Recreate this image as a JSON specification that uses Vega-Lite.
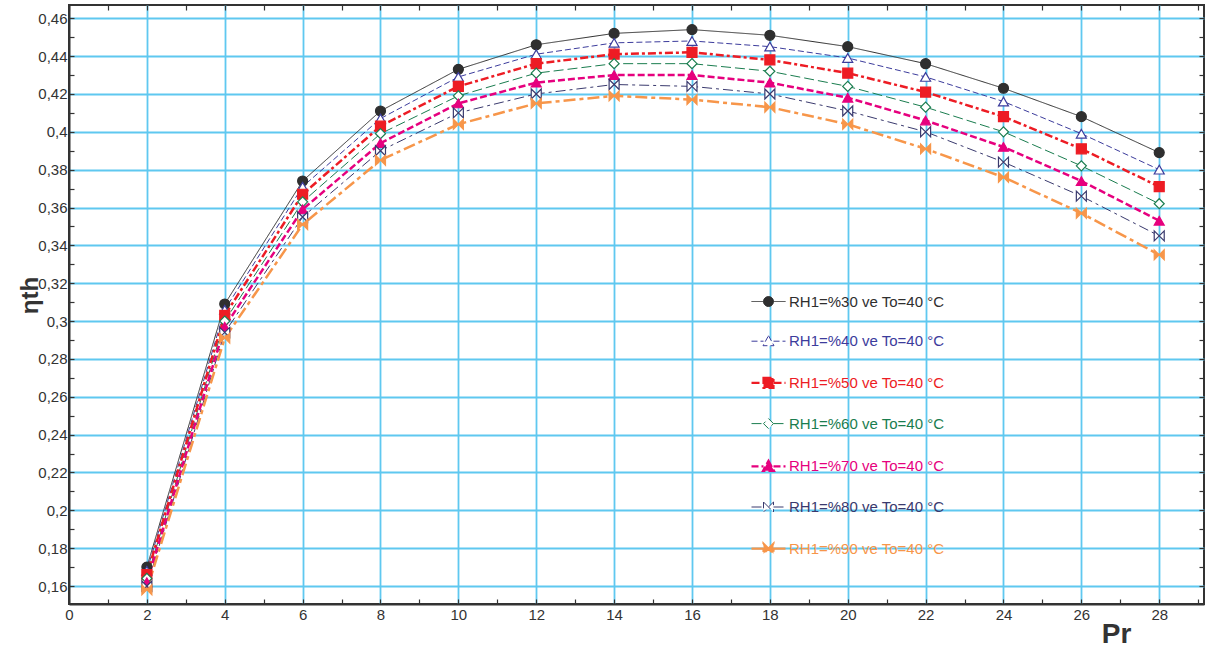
{
  "$schema": "https://vega.github.io/schema/vega-lite/v6.json",
  "width": 1135,
  "height": 599,
  "autosize": {"type": "none"},
  "padding": {"left": 69, "top": 5, "right": 11, "bottom": 44},
  "background": "white",
  "config": {"view": {"stroke": "#333333", "strokeWidth": 2}, "font": "Liberation Sans"},
  "data": {"values": [
    {"Pr": 2, "RH": "30", "eta": 0.170}, {"Pr": 4, "RH": "30", "eta": 0.309}, {"Pr": 6, "RH": "30", "eta": 0.374}, {"Pr": 8, "RH": "30", "eta": 0.411}, {"Pr": 10, "RH": "30", "eta": 0.433}, {"Pr": 12, "RH": "30", "eta": 0.446}, {"Pr": 14, "RH": "30", "eta": 0.452}, {"Pr": 16, "RH": "30", "eta": 0.454}, {"Pr": 18, "RH": "30", "eta": 0.451}, {"Pr": 20, "RH": "30", "eta": 0.445}, {"Pr": 22, "RH": "30", "eta": 0.436}, {"Pr": 24, "RH": "30", "eta": 0.423}, {"Pr": 26, "RH": "30", "eta": 0.408}, {"Pr": 28, "RH": "30", "eta": 0.389},
    {"Pr": 2, "RH": "40", "eta": 0.168}, {"Pr": 4, "RH": "40", "eta": 0.306}, {"Pr": 6, "RH": "40", "eta": 0.371}, {"Pr": 8, "RH": "40", "eta": 0.407}, {"Pr": 10, "RH": "40", "eta": 0.429}, {"Pr": 12, "RH": "40", "eta": 0.441}, {"Pr": 14, "RH": "40", "eta": 0.447}, {"Pr": 16, "RH": "40", "eta": 0.448}, {"Pr": 18, "RH": "40", "eta": 0.445}, {"Pr": 20, "RH": "40", "eta": 0.439}, {"Pr": 22, "RH": "40", "eta": 0.429}, {"Pr": 24, "RH": "40", "eta": 0.416}, {"Pr": 26, "RH": "40", "eta": 0.399}, {"Pr": 28, "RH": "40", "eta": 0.380},
    {"Pr": 2, "RH": "50", "eta": 0.166}, {"Pr": 4, "RH": "50", "eta": 0.303}, {"Pr": 6, "RH": "50", "eta": 0.367}, {"Pr": 8, "RH": "50", "eta": 0.403}, {"Pr": 10, "RH": "50", "eta": 0.424}, {"Pr": 12, "RH": "50", "eta": 0.436}, {"Pr": 14, "RH": "50", "eta": 0.441}, {"Pr": 16, "RH": "50", "eta": 0.442}, {"Pr": 18, "RH": "50", "eta": 0.438}, {"Pr": 20, "RH": "50", "eta": 0.431}, {"Pr": 22, "RH": "50", "eta": 0.421}, {"Pr": 24, "RH": "50", "eta": 0.408}, {"Pr": 26, "RH": "50", "eta": 0.391}, {"Pr": 28, "RH": "50", "eta": 0.371},
    {"Pr": 2, "RH": "60", "eta": 0.164}, {"Pr": 4, "RH": "60", "eta": 0.300}, {"Pr": 6, "RH": "60", "eta": 0.363}, {"Pr": 8, "RH": "60", "eta": 0.399}, {"Pr": 10, "RH": "60", "eta": 0.419}, {"Pr": 12, "RH": "60", "eta": 0.431}, {"Pr": 14, "RH": "60", "eta": 0.436}, {"Pr": 16, "RH": "60", "eta": 0.436}, {"Pr": 18, "RH": "60", "eta": 0.432}, {"Pr": 20, "RH": "60", "eta": 0.424}, {"Pr": 22, "RH": "60", "eta": 0.413}, {"Pr": 24, "RH": "60", "eta": 0.400}, {"Pr": 26, "RH": "60", "eta": 0.382}, {"Pr": 28, "RH": "60", "eta": 0.362},
    {"Pr": 2, "RH": "70", "eta": 0.162}, {"Pr": 4, "RH": "70", "eta": 0.297}, {"Pr": 6, "RH": "70", "eta": 0.359}, {"Pr": 8, "RH": "70", "eta": 0.394}, {"Pr": 10, "RH": "70", "eta": 0.415}, {"Pr": 12, "RH": "70", "eta": 0.426}, {"Pr": 14, "RH": "70", "eta": 0.430}, {"Pr": 16, "RH": "70", "eta": 0.430}, {"Pr": 18, "RH": "70", "eta": 0.426}, {"Pr": 20, "RH": "70", "eta": 0.418}, {"Pr": 22, "RH": "70", "eta": 0.406}, {"Pr": 24, "RH": "70", "eta": 0.392}, {"Pr": 26, "RH": "70", "eta": 0.374}, {"Pr": 28, "RH": "70", "eta": 0.353},
    {"Pr": 2, "RH": "80", "eta": 0.160}, {"Pr": 4, "RH": "80", "eta": 0.294}, {"Pr": 6, "RH": "80", "eta": 0.355}, {"Pr": 8, "RH": "80", "eta": 0.390}, {"Pr": 10, "RH": "80", "eta": 0.410}, {"Pr": 12, "RH": "80", "eta": 0.420}, {"Pr": 14, "RH": "80", "eta": 0.425}, {"Pr": 16, "RH": "80", "eta": 0.424}, {"Pr": 18, "RH": "80", "eta": 0.420}, {"Pr": 20, "RH": "80", "eta": 0.411}, {"Pr": 22, "RH": "80", "eta": 0.400}, {"Pr": 24, "RH": "80", "eta": 0.384}, {"Pr": 26, "RH": "80", "eta": 0.366}, {"Pr": 28, "RH": "80", "eta": 0.345},
    {"Pr": 2, "RH": "90", "eta": 0.158}, {"Pr": 4, "RH": "90", "eta": 0.291}, {"Pr": 6, "RH": "90", "eta": 0.351}, {"Pr": 8, "RH": "90", "eta": 0.385}, {"Pr": 10, "RH": "90", "eta": 0.404}, {"Pr": 12, "RH": "90", "eta": 0.415}, {"Pr": 14, "RH": "90", "eta": 0.419}, {"Pr": 16, "RH": "90", "eta": 0.417}, {"Pr": 18, "RH": "90", "eta": 0.413}, {"Pr": 20, "RH": "90", "eta": 0.404}, {"Pr": 22, "RH": "90", "eta": 0.391}, {"Pr": 24, "RH": "90", "eta": 0.376}, {"Pr": 26, "RH": "90", "eta": 0.357}, {"Pr": 28, "RH": "90", "eta": 0.335}
  ]},
  "layer": [
    {
      "transform": [{"filter": {"field": "RH", "oneOf": ["30", "40", "60", "80"]}}],
      "mark": {"type": "line", "strokeWidth": 1},
      "encoding": {
        "x": {"field": "Pr", "type": "quantitative",
          "scale": {"domain": [0, 29.15], "nice": false, "zero": false},
          "axis": {
            "values": [0,1,2,3,4,5,6,7,8,9,10,11,12,13,14,15,16,17,18,19,20,21,22,23,24,25,26,27,28,29],
            "labelExpr": "datum.value % 2 == 0 ? datum.label : ''",
            "grid": true, "gridColor": "#5fc8f0", "gridWidth": 1.8,
            "gridOpacity": {"condition": {"test": "datum.value % 2 != 0 || datum.value == 0", "value": 0}, "value": 1},
            "tickSize": -5, "tickColor": "#333333", "tickWidth": 1.2,
            "domainColor": "#333333", "domainWidth": 2,
            "labelFont": "Liberation Sans", "labelFontSize": 15, "labelColor": "#333333", "labelPadding": 8,
            "labelFlush": false, "labelOverlap": false,
            "title": "Pr", "titleFont": "Liberation Sans", "titleFontSize": 28, "titleFontWeight": "bold", "titleColor": "#333333",
            "titleX": 1047, "titleY": 38, "titleAlign": "center", "titleBaseline": "alphabetic"
          }
        },
        "y": {"field": "eta", "type": "quantitative",
          "scale": {"domain": [0.1505, 0.467], "nice": false, "zero": false},
          "axis": {
            "values": [0.15,0.16,0.17,0.18,0.19,0.2,0.21,0.22,0.23,0.24,0.25,0.26,0.27,0.28,0.29,0.3,0.31,0.32,0.33,0.34,0.35,0.36,0.37,0.38,0.39,0.4,0.41,0.42,0.43,0.44,0.45,0.46],
            "labelExpr": "round(datum.value*100) % 2 == 0 ? replace(format(datum.value, '.2~f'), '.', ',') : ''",
            "grid": true, "gridColor": "#5fc8f0", "gridWidth": 1.8,
            "gridOpacity": {"condition": {"test": "round(datum.value*100) % 2 != 0", "value": 0}, "value": 1},
            "tickSize": -5, "tickColor": "#333333", "tickWidth": 1.2,
            "domainColor": "#333333", "domainWidth": 2,
            "labelFont": "Liberation Sans", "labelFontSize": 15, "labelColor": "#333333", "labelPadding": 7,
            "labelFlush": false, "labelOverlap": false,
            "title": "ηth", "titleFont": "Liberation Sans", "titleFontSize": 24, "titleFontWeight": "bold", "titleColor": "#333333",
            "titleX": -39, "titleY": 290, "titleAlign": "center", "titleBaseline": "middle", "titleAngle": 270
          }
        },
        "stroke": {"field": "RH", "type": "nominal",
          "scale": {"domain": ["30","40","50","60","70","80","90"], "range": ["#2f2f2f","#3c3c9c","#ed1c24","#1a7d4f","#e6007e","#3a3a6e","#f7964a"]},
          "legend": {
            "orient": "none", "legendX": 692, "legendY": 289, "title": null, "direction": "vertical",
            "padding": 0, "symbolSize": 100, "rowPadding": 23.7, "labelOffset": 13,
            "labelFont": "Liberation Sans", "labelFontSize": 15, "labelLimit": 400,
            "labelExpr": "'RH1=%' + datum.label + ' ve To=40 °C'",
            "encoding": {
              "symbols": {
                "shape": {"value": {"expr": "['M-3.4,0H-1M1,0H3.4M1,0A1,1,0,1,1,-1,0A1,1,0,1,1,1,0Z','M-3.4,0H-1M1,0H3.4M0,-1.1L1.1,0.9L-1.1,0.9Z','M-3.4,0H-1M1,0H3.4M-1,-1H1V1H-1Z','M-3.4,0H-1M1,0H3.4M0,-1L1,0L0,1L-1,0Z','M-3.4,0H-1M1,0H3.4M0,-1.1L1.1,0.9L-1.1,0.9Z','M-3.4,0H-1M1,0H3.4M-1,-1L1,1L1,-1L-1,1Z','M-3.4,0H-1M1,0H3.4M-1,-1L1,1L1,-1L-1,1Z'][indexof(['30','40','50','60','70','80','90'], datum.value)]"}},
                "fill": {"value": {"expr": "scale('fill', datum.value)"}},
                "stroke": {"value": {"expr": "scale('stroke', datum.value)"}},
                "strokeDash": {"value": {"expr": "scale('strokeDash', datum.value)"}},
                "strokeWidth": {"value": {"expr": "indexof(['50','70','90'], datum.value) >= 0 ? 2.2 : 1"}},
                "opacity": {"value": 1},
                "fillOpacity": {"value": 1}
              },
              "labels": {
                "fill": {"value": {"expr": "scale('stroke', datum.value)"}}
              }
            }
          }
        },
        "strokeDash": {"field": "RH", "type": "nominal",
          "scale": {"domain": ["30","40","50","60","70","80","90"], "range": [[1,0],[6,3],[8,3,3,3],[10,4],[7,3],[10,4,3,4],[12,4,4,4]]},
          "legend": null}
      }
    },
    {
      "transform": [{"filter": {"field": "RH", "oneOf": ["50", "70", "90"]}}],
      "mark": {"type": "line", "strokeWidth": 2.5},
      "encoding": {
        "x": {"field": "Pr", "type": "quantitative", "axis": null},
        "y": {"field": "eta", "type": "quantitative", "axis": null},
        "stroke": {"field": "RH", "type": "nominal"},
        "strokeDash": {"field": "RH", "type": "nominal", "legend": null}
      }
    },
    {
      "mark": {"type": "point", "filled": true, "opacity": 1, "fillOpacity": 1, "strokeWidth": 1.2, "size": 100},
      "encoding": {
        "x": {"field": "Pr", "type": "quantitative",
          "axis": {"orient": "top", "values": [0,1,2,3,4,5,6,7,8,9,10,11,12,13,14,15,16,17,18,19,20,21,22,23,24,25,26,27,28,29],
            "labels": false, "grid": false, "domain": false, "tickSize": -5, "tickColor": "#333333", "tickWidth": 1.2, "title": null}},
        "y": {"field": "eta", "type": "quantitative",
          "axis": {"orient": "right", "values": [0.15,0.16,0.17,0.18,0.19,0.2,0.21,0.22,0.23,0.24,0.25,0.26,0.27,0.28,0.29,0.3,0.31,0.32,0.33,0.34,0.35,0.36,0.37,0.38,0.39,0.4,0.41,0.42,0.43,0.44,0.45,0.46],
            "labels": false, "grid": false, "domain": false, "tickSize": -5, "tickColor": "#333333", "tickWidth": 1.2, "title": null}},
        "stroke": {"field": "RH", "type": "nominal"},
        "fill": {"field": "RH", "type": "nominal",
          "scale": {"domain": ["30","40","50","60","70","80","90"], "range": ["#2f2f2f","#ffffff","#ed1c24","#ffffff","#e6007e","#ffffff","#f7964a"]},
          "legend": null},
        "shape": {
          "condition": [
            {"test": "datum.RH == '30'", "value": "circle"},
            {"test": "datum.RH == '40' || datum.RH == '70'", "value": "triangle-up"},
            {"test": "datum.RH == '50'", "value": "square"},
            {"test": "datum.RH == '60'", "value": "diamond"}
          ],
          "value": "M-1,-1L1,1L1,-1L-1,1Z"
        }
      }
    }
  ],
  "resolve": {"axis": {"x": "independent", "y": "independent"}}
}
